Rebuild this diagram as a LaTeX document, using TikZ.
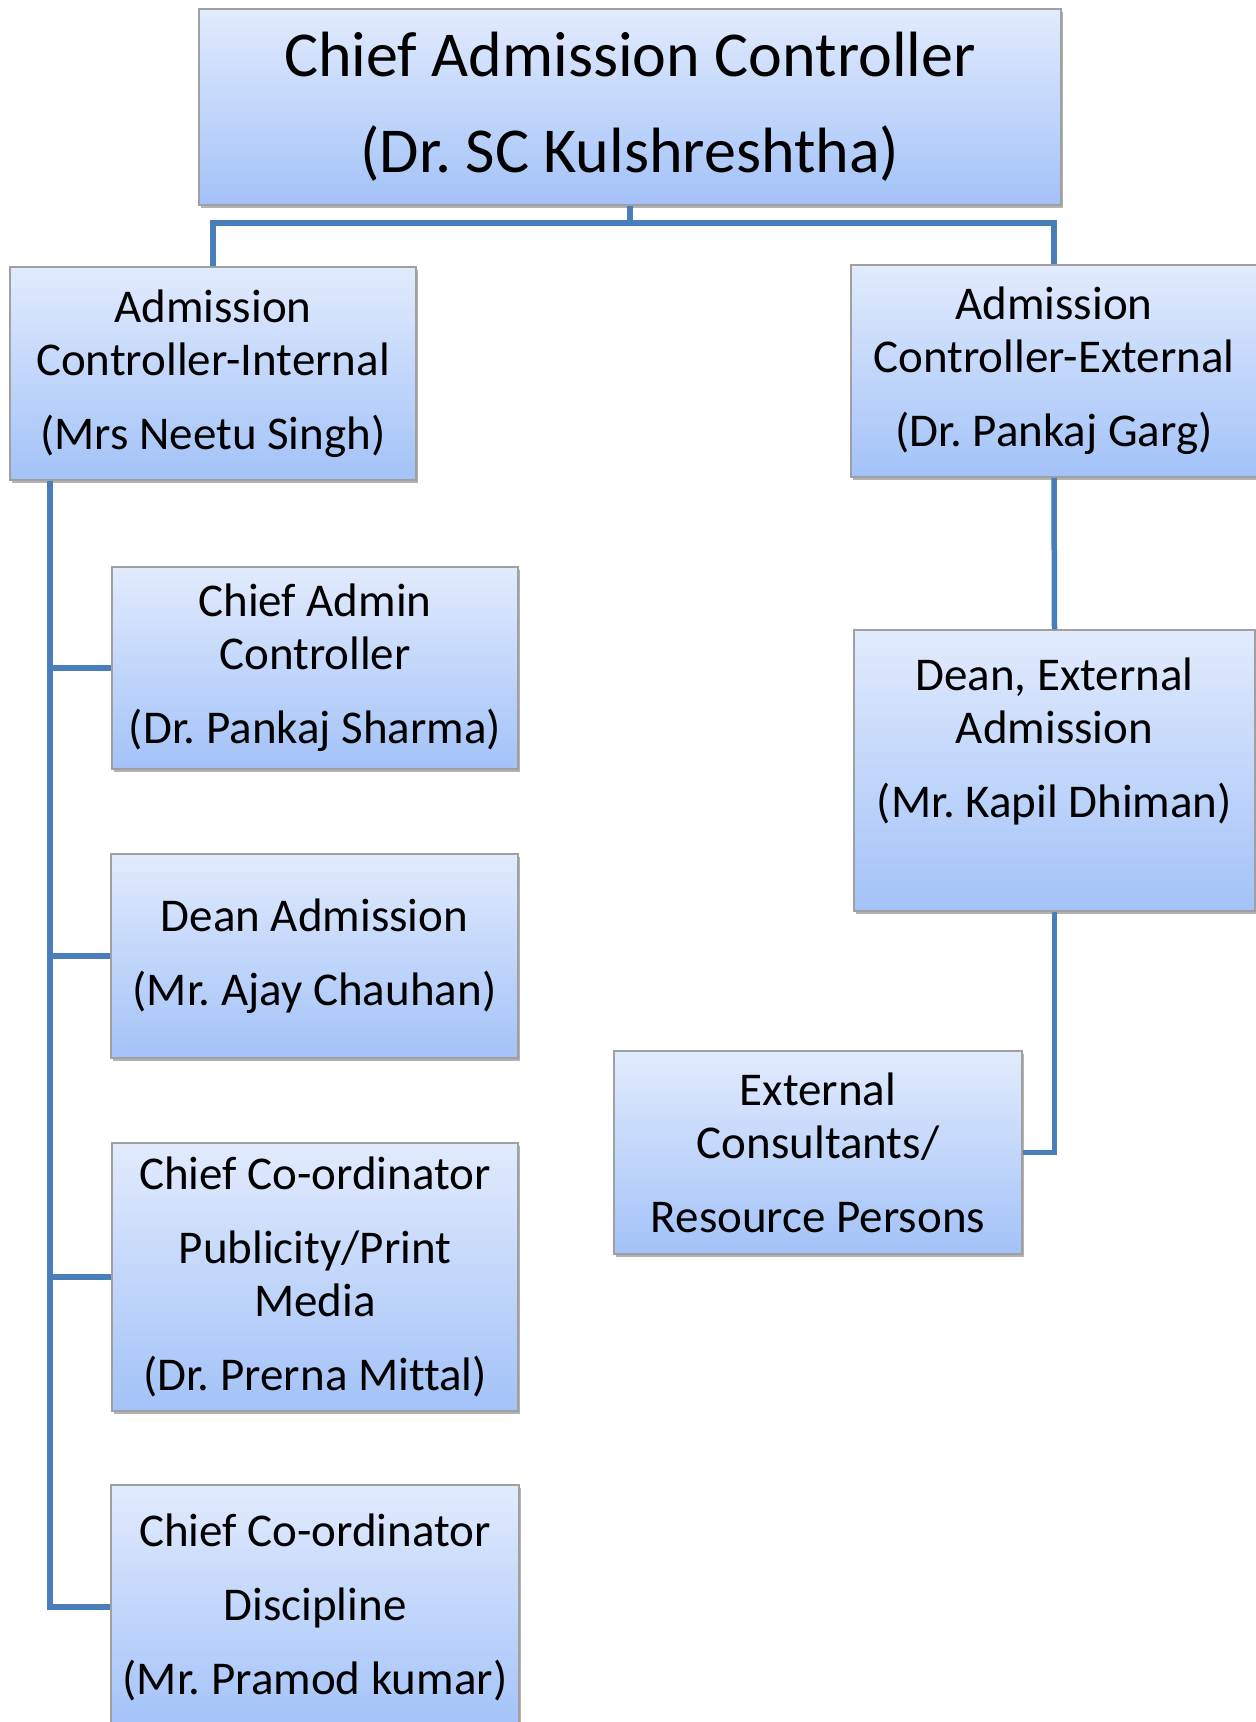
\documentclass[tikz,border=0pt]{standalone}
\usepackage{fontspec}
\setmainfont{Carlito}[Ligatures=NoCommon]
\frenchspacing
\usetikzlibrary{shadows}
\definecolor{linkblue}{HTML}{4A7EBB}
\definecolor{boxtop}{HTML}{E1EBFD}
\definecolor{boxbot}{HTML}{A3C2F8}
\definecolor{boxline}{HTML}{A0A0A0}
\begin{document}
\begin{tikzpicture}[x=1pt,y=-1pt,
  box/.style={draw=boxline, line width=1.5pt, top color=boxtop, bottom color=boxbot,
    align=center, inner sep=0pt, font=\fontsize{47}{53}\selectfont,
    drop shadow={shadow xshift=1.5pt, shadow yshift=-3pt, fill=black, opacity=0.3}},
  boxtext/.style={align=center, inner sep=0pt, font=\fontsize{47}{53}\selectfont},
  conn/.style={draw=linkblue, line width=5.5pt}]
\useasboundingbox (0,0) rectangle (1256,1722);

% boxes
\node[box, minimum width=862pt, minimum height=196pt, font=\fontsize{64}{72}\selectfont] (top) at (630,107)
  {Chief Admission Controller\\[24pt](Dr. SC Kulshreshtha)};
\node[box, minimum width=406pt, minimum height=213pt] (cint) at (213,373.5)
  {Admission\\Controller-Internal\\[21pt](Mrs Neetu Singh)};
\node[box, minimum width=406pt, minimum height=212pt] (cext) at (1054,371)
  {Admission\\Controller-External\\[21pt](Dr. Pankaj Garg)};
\node[box, minimum width=406pt, minimum height=202pt] (cadmin) at (315,668)
  {Chief Admin\\Controller\\[21pt](Dr. Pankaj Sharma)};
\node[box, minimum width=407pt, minimum height=204pt] (dean) at (314.5,956)
  {Dean Admission\\[21pt](Mr. Ajay Chauhan)};
\node[box, minimum width=406pt, minimum height=268pt] (pub) at (315,1277)
  {Chief Co-ordinator\\[21pt]Publicity/Print\\Media\\[21pt](Dr. Prerna Mittal)};
\node[box, minimum width=408pt, minimum height=244pt] (disc) at (315,1607)
  {Chief Co-ordinator\\[21pt]Discipline\\[21pt](Mr. Pramod kumar)};
\node[box, minimum width=401pt, minimum height=281pt] (dext) at (1054.5,770.5) {};
\node[boxtext] (dexttext) at ([yshift=29pt]dext.center)
  {Dean, External\\Admission\\[21pt](Mr. Kapil Dhiman)};
\node[box, minimum width=408pt, minimum height=203pt] (cons) at (818,1152.5)
  {External\\Consultants/\\[21pt]Resource Persons};

% connectors
\coordinate (bus) at (0,223);
\coordinate (spine) at (50,0);
\draw[conn] (top.south) -- (top.south |- bus) -| (cint.north);
\draw[conn] (top.south |- bus) -| (cext.north);
\draw[conn] (spine |- cint.south) -- (spine |- disc.west) -- (disc.west);
\draw[conn] (spine |- cadmin.west) -- (cadmin.west);
\draw[conn] (spine |- dean.west) -- (dean.west);
\draw[conn] (spine |- pub.west) -- (pub.west);
\draw[conn] (cext.south) -- (dext.north);
\draw[conn] (dext.south) |- (cons.east);
\end{tikzpicture}
\end{document}
